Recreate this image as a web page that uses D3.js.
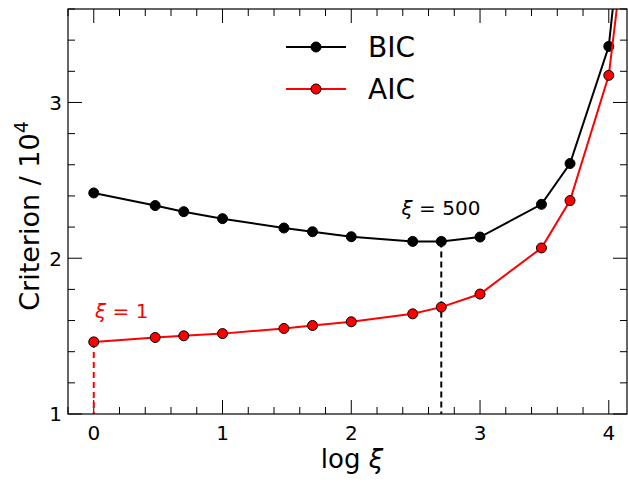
<!DOCTYPE html>
<html lang="en">
<head>
    <meta charset="UTF-8">
    <title>Criterion vs log xi</title>
    <script src="https://d3js.org/d3.v7.min.js"></script>
    <style>
        body{ margin:0; background:#fff; }
        svg{ font-family: "DejaVu Sans", sans-serif; }
    </style>
</head>
<body>
<svg width="628" height="483"></svg>

<script>
    // data: x = log xi, y = criterion / 1e4
    const logXi = [0, 0.477, 0.699, 1, 1.477, 1.699, 2, 2.477, 2.699, 3, 3.477, 3.699, 4, 4.477]
    const bic = [2.419, 2.338, 2.299, 2.254, 2.194, 2.170, 2.138, 2.108, 2.108, 2.136, 2.346, 2.608, 3.36, 7.09]
    const aic = [1.463, 1.491, 1.502, 1.516, 1.549, 1.568, 1.592, 1.643, 1.686, 1.770, 2.066, 2.370, 3.174, 6.46]
    const xTicks = [0, 1, 2, 3, 4]
    const yTicks = [1, 2, 3]
    const seriesNames = ["BIC", "AIC"]
    const seriesColors = ["black", "red"]
    const bestBic = 8   // index of xi = 500
    const bestAic = 0   // index of xi = 1

    const svg = d3.select("svg")
    const pL = 68, pR = 627, pT = 9, pB = 414
    const x = d3.scaleLinear().domain([-0.2, (pR - 94) / 128.7]).range([pL, pR])
    const y = d3.scaleLinear().domain([1, 3.6]).range([pB, pT])

    svg.append("defs").append("clipPath").attr("id", "clip")
        .append("rect").attr("x", pL).attr("y", pT)
        .attr("width", pR - pL).attr("height", pB - pT)

    // ticks on all four sides, pointing inward
    const minorX = d3.range(-0.2, 4.15, 0.2).filter(v => Math.abs(v - Math.round(v)) > 1e-6)
    const minorY = d3.range(1, 3.61, 0.2).filter(v => Math.abs(v - Math.round(v)) > 1e-6)
    const tickG = svg.append("g").attr("stroke", "black").attr("stroke-width", 1)
    const addX = (vals, len) => vals.forEach(v => {
        tickG.append("line").attr("x1", x(v)).attr("x2", x(v)).attr("y1", pB).attr("y2", pB - len)
        tickG.append("line").attr("x1", x(v)).attr("x2", x(v)).attr("y1", pT).attr("y2", pT + len)
    })
    const addY = (vals, len) => vals.forEach(v => {
        tickG.append("line").attr("y1", y(v)).attr("y2", y(v)).attr("x1", pL).attr("x2", pL + len)
        tickG.append("line").attr("y1", y(v)).attr("y2", y(v)).attr("x1", pR).attr("x2", pR - len)
    })
    addX(xTicks, 14); addX(minorX, 7)
    addY(yTicks, 14); addY(minorY, 7)

    svg.append("g").selectAll("text").data(xTicks).join("text")
        .attr("x", d => x(d)).attr("y", 440).attr("text-anchor", "middle")
        .attr("font-size", 20).text(d => d)
    svg.append("g").selectAll("text").data(yTicks).join("text")
        .attr("x", 62).attr("y", d => y(d) + 7.3).attr("text-anchor", "end")
        .attr("font-size", 20).text(d => d)

    // axis labels
    const xl = svg.append("text").attr("x", 352).attr("y", 468).attr("text-anchor", "middle").attr("font-size", 26)
    xl.append("tspan").text("log ")
    xl.append("tspan").attr("font-style", "italic").text("ξ")
    const yl = svg.append("text").attr("transform", "translate(39,216) rotate(-90)")
        .attr("text-anchor", "middle").attr("font-size", 27)
    yl.append("tspan").text("Criterion / 10")
    yl.append("tspan").attr("font-size", 19).attr("dy", -11).text("4")

    // dashed guides
    svg.append("line").attr("x1", x(logXi[bestBic])).attr("x2", x(logXi[bestBic]))
        .attr("y1", y(bic[bestBic])).attr("y2", pB)
        .attr("stroke", "black").attr("stroke-width", 2).attr("stroke-dasharray", "6,4")
    svg.append("line").attr("x1", x(logXi[bestAic])).attr("x2", x(logXi[bestAic]))
        .attr("y1", y(aic[bestAic])).attr("y2", pB)
        .attr("stroke", "red").attr("stroke-width", 2).attr("stroke-dasharray", "6,4")

    // series
    const plot = svg.append("g").attr("clip-path", "url(#clip)")
    const line = d3.line().x((d, i) => x(logXi[i])).y(d => y(d))
    ;[bic, aic].forEach((vals, k) => {
        plot.append("path").attr("d", line(vals)).attr("fill", "none")
            .attr("stroke", seriesColors[k]).attr("stroke-width", 2)
        plot.append("g").selectAll("circle").data(vals).join("circle")
            .attr("cx", (d, i) => x(logXi[i])).attr("cy", d => y(d)).attr("r", 5)
            .attr("fill", seriesColors[k]).attr("stroke", "black").attr("stroke-width", 1)
    })

    // frame
    svg.append("rect").attr("x", pL).attr("y", pT).attr("width", pR - pL).attr("height", pB - pT)
        .attr("fill", "none").attr("stroke", "black").attr("stroke-width", 1.2)

    // annotations
    const a1 = svg.append("text").attr("x", 441).attr("y", 215).attr("text-anchor", "middle").attr("font-size", 20)
    a1.append("tspan").attr("font-style", "italic").text("ξ")
    a1.append("tspan").text(" = 500")
    const a2 = svg.append("text").attr("x", 95).attr("y", 318).attr("font-size", 20).attr("fill", "red")
    a2.append("tspan").attr("font-style", "italic").text("ξ")
    a2.append("tspan").text(" = 1")

    // legend
    seriesNames.forEach((name, k) => {
        const ly = 47 + k * 42
        svg.append("line").attr("x1", 286).attr("x2", 346).attr("y1", ly).attr("y2", ly)
            .attr("stroke", seriesColors[k]).attr("stroke-width", 2)
        svg.append("circle").attr("cx", 316).attr("cy", ly).attr("r", 5)
            .attr("fill", seriesColors[k]).attr("stroke", "black")
        svg.append("text").attr("x", 368).attr("y", ly + 10).attr("font-size", 28).text(name)
    })
</script>
</body>
</html>
